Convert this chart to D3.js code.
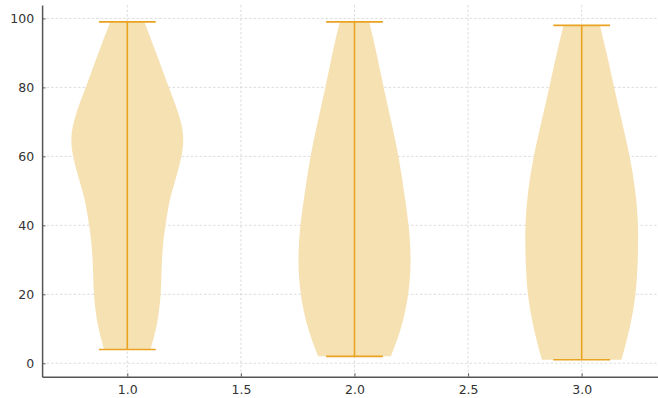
<!DOCTYPE html>
<html>
<head>
<meta charset="utf-8">
<script src="https://cdn.jsdelivr.net/npm/d3@7"></script>
<style>
  html, body { margin: 0; padding: 0; background: #fff; }
  svg { display: block; }
</style>
</head>
<body>
<script>
// ---- Data ----
const positions = [1, 2, 3];
const mins = [4, 2, 1];
const maxs = [99, 99, 98];

// density profile: sample levels and relative widths (1 = widest)
const levels1 = [4, 10, 15, 20, 25, 30, 35, 40, 47, 50, 55, 60, 65, 70, 75, 80, 90, 99];
const widths1 = [0.41, 0.51, 0.56, 0.59, 0.60, 0.61, 0.63, 0.67, 0.74, 0.79, 0.88, 0.96, 1.0, 0.95, 0.85, 0.73, 0.51, 0.30];

const levels2 = [2, 10, 20, 30, 40, 50, 60, 70, 80, 90, 99];
const widths2 = [0.64, 0.83, 0.96, 1.0, 0.96, 0.87, 0.78, 0.65, 0.51, 0.39, 0.26];

const levels3 = [1, 10, 20, 30, 40, 50, 60, 70, 80, 90, 98];
const widths3 = [0.70, 0.85, 0.96, 0.99, 1.0, 0.95, 0.85, 0.71, 0.57, 0.44, 0.32];

const xTicks = [1.0, 1.5, 2.0, 2.5, 3.0];
const yTicks = [0, 20, 40, 60, 80, 100];

// ---- Layout ----
const W = 658, H = 398;
const svg = d3.select("body").append("svg").attr("width", W).attr("height", H);

const x = d3.scaleLinear().domain([0.625, 3.375]).range([42.1, 666.9]);
const y = d3.scaleLinear().domain([-3.9, 103.9]).range([376.7, 5]);

const axisColor = "#555";
const fillColor = "#F6E1B3";
const lineColor = "#E9A320";
const halfWidth = 0.25; // data units

// grid
const grid = svg.append("g");
grid.selectAll(".gy").data(yTicks).join("line")
  .attr("x1", x.range()[0]).attr("x2", W)
  .attr("y1", d => y(d)).attr("y2", d => y(d))
  .attr("stroke", "#d4d4d4").attr("stroke-width", 0.8).attr("stroke-dasharray", "2.5,2");
grid.selectAll(".gx").data(xTicks).join("line")
  .attr("x1", d => x(d)).attr("x2", d => x(d))
  .attr("y1", y.range()[1]).attr("y2", y.range()[0])
  .attr("stroke", "#d4d4d4").attr("stroke-width", 0.8).attr("stroke-dasharray", "2.5,2");

// violins
const violins = [
  { pos: positions[0], levels: levels1, widths: widths1, min: mins[0], max: maxs[0] },
  { pos: positions[1], levels: levels2, widths: widths2, min: mins[1], max: maxs[1] },
  { pos: positions[2], levels: levels3, widths: widths3, min: mins[2], max: maxs[2] }
];

const g = svg.append("g");
violins.forEach(v => {
  const pts = v.levels.map((l, i) => ({ l, w: v.widths[i] }));
  const area = d3.area()
    .y(d => y(d.l))
    .x0(d => x(v.pos - d.w * halfWidth))
    .x1(d => x(v.pos + d.w * halfWidth))
    .curve(d3.curveBasis);
  g.append("path").datum(pts).attr("d", area)
    .attr("fill", fillColor).attr("stroke", "none");
});
violins.forEach(v => {
  g.append("line")
    .attr("x1", x(v.pos)).attr("x2", x(v.pos))
    .attr("y1", y(v.min)).attr("y2", y(v.max))
    .attr("stroke", lineColor).attr("stroke-width", 1.6);
  [v.min, v.max].forEach(val => {
    g.append("line")
      .attr("x1", x(v.pos - halfWidth / 2)).attr("x2", x(v.pos + halfWidth / 2))
      .attr("y1", y(val)).attr("y2", y(val))
      .attr("stroke", lineColor).attr("stroke-width", 1.6);
  });
});

// axes
const xAxis = d3.axisBottom(x).tickValues(xTicks).tickFormat(d3.format(".1f")).tickSizeInner(-3.5).tickSizeOuter(0).tickPadding(8);
const yAxis = d3.axisLeft(y).tickValues(yTicks).tickFormat(d3.format("d")).tickSizeInner(-3.5).tickSizeOuter(0).tickPadding(8);

const gx = svg.append("g").attr("transform", `translate(0,${y.range()[0]})`).call(xAxis);
const gy = svg.append("g").attr("transform", `translate(${x.range()[0]},0)`).call(yAxis);

[gx, gy].forEach(a => {
  a.select(".domain").attr("stroke", axisColor).attr("stroke-width", 1.5);
  a.selectAll(".tick line").attr("stroke", axisColor).attr("stroke-width", 0.9);
  a.selectAll(".tick text").attr("fill", "#333")
    .style("font-family", "'DejaVu Sans', sans-serif").style("font-size", "12.5px");
});
</script>
</body>
</html>
